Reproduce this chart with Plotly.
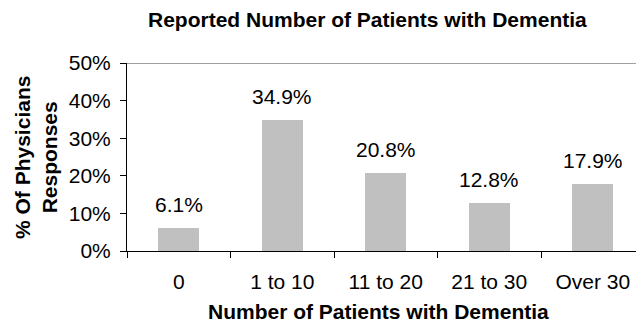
import plotly.graph_objects as go

categories = ["0", "1 to 10", "11 to 20", "21 to 30", "Over 30"]
percent_values = [6.1, 34.9, 20.8, 12.8, 17.9]
y_tick_values = [0, 10, 20, 30, 40, 50]
y_tick_labels = ["0%", "10%", "20%", "30%", "40%", "50%"]

W, H = 636, 333
L, R, T, B = 127, 0, 63, 82
plot_w = W - L - R
cat_px = 103.5  # pixel width of one category slot

FONT = "Liberation Sans, Arial, sans-serif"
TICK_SIZE = 21
TITLE_SIZE = 21

fig = go.Figure()
fig.add_trace(go.Bar(
    x=categories,
    y=percent_values,
    width=0.4,
    marker=dict(color="#c0c0c0", line=dict(width=0)),
    hoverinfo="skip",
))

for c, v in zip(categories, percent_values):
    fig.add_annotation(
        x=c, y=v, text=f"{v}%", showarrow=False,
        xref="x", yref="y", yanchor="bottom", yshift=10,
        font=dict(family=FONT, size=TICK_SIZE, color="#000000"),
    )

# thin grey line across the top of the plot area
fig.add_shape(type="line", xref="paper", yref="y", x0=0, x1=1, y0=50, y1=50,
              line=dict(color="#808080", width=1.5))

def px_x(p):
    return (p - L) / plot_w

def px_y(p):
    return (H - B - p) / (H - T - B)

fig.add_annotation(
    x=px_x(367), y=px_y(19), xref="paper", yref="paper", showarrow=False,
    text="<b>Reported Number of Patients with Dementia</b>",
    font=dict(family=FONT, size=TITLE_SIZE, color="#000000"),
    xanchor="center", yanchor="middle",
)
fig.add_annotation(
    x=px_x(378), y=px_y(311), xref="paper", yref="paper", showarrow=False,
    text="<b>Number of Patients with Dementia</b>",
    font=dict(family=FONT, size=TITLE_SIZE, color="#000000"),
    xanchor="center", yanchor="middle",
)
fig.add_annotation(
    x=px_x(36), y=px_y(158), xref="paper", yref="paper", showarrow=False,
    text="<b>% Of Physicians<br>Responses</b>", textangle=-90,
    font=dict(family=FONT, size=TITLE_SIZE, color="#000000"),
    xanchor="center", yanchor="middle",
)

fig.update_layout(
    width=W, height=H,
    margin=dict(l=L, r=R, t=T, b=B),
    paper_bgcolor="white", plot_bgcolor="white",
    showlegend=False,
    bargap=0,
    font=dict(family=FONT, size=TICK_SIZE, color="#000000"),
)
fig.update_xaxes(
    type="category",
    range=[-0.5, plot_w / cat_px - 0.5],
    tickson="boundaries",
    ticks="outside", ticklen=6, tickwidth=1, tickcolor="#000000",
    showline=True, linecolor="#000000", linewidth=1,
    showgrid=False, zeroline=False,
    tickfont=dict(family=FONT, size=TICK_SIZE, color="#000000"),
    ticklabelstandoff=12,
)
fig.update_yaxes(
    range=[0, 50],
    tickvals=y_tick_values, ticktext=y_tick_labels,
    ticks="outside", ticklen=6, tickwidth=1, tickcolor="#000000",
    showline=True, linecolor="#000000", linewidth=1,
    showgrid=False, zeroline=False,
    tickfont=dict(family=FONT, size=TICK_SIZE, color="#000000"),
    ticklabelstandoff=5,
)

fig.write_html("out.html")
